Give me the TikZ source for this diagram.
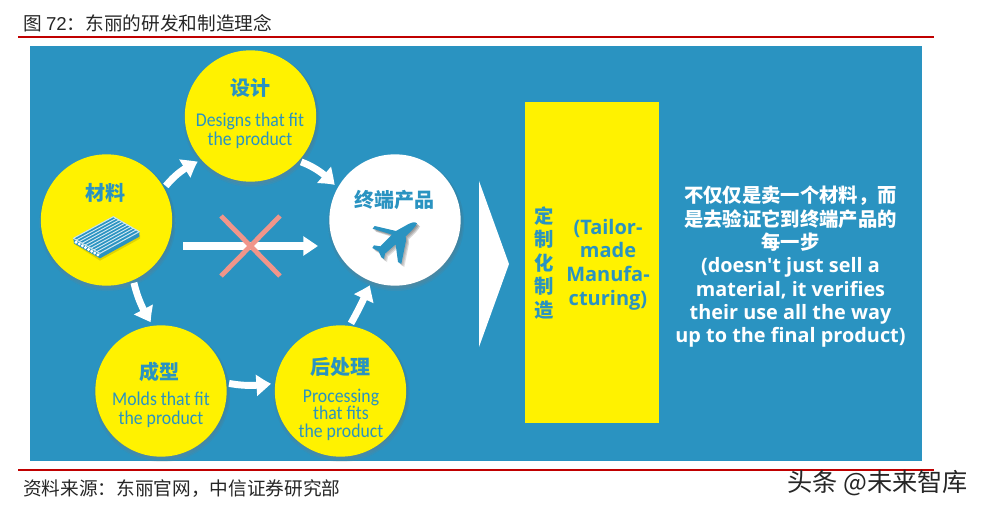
\documentclass[tikz,border=0pt]{standalone}
\usepackage{fontspec}
\usetikzlibrary{arrows.meta,bending}
\setmainfont{Liberation Sans}
\newfontfamily\cjk{Noto Sans CJK SC}
\newfontfamily\engcirc[FakeStretch=0.91]{Carlito}
\newfontfamily\engbold{Open Sans}
\definecolor{panel}{HTML}{2A93C1}
\definecolor{sun}{HTML}{FFF200}
\definecolor{redline}{HTML}{C00000}
\definecolor{cross}{HTML}{F0958A}
\definecolor{shade}{HTML}{0C3F5E}
\tikzset{
  ball/.style={circle,fill=sun,minimum size=98.5pt,inner sep=0pt},
  whiteball/.style={ball,fill=white},
  headcjk/.style={text=panel,inner sep=0pt,font=\cjk\bfseries\fontsize{15}{18}\selectfont},
  circen/.style={text=panel,inner sep=0pt,align=center,font=\engcirc\fontsize{14.6}{15}\selectfont},
  flow/.style={draw=white,line width=5.2pt,-{Triangle[width=15pt,length=11.5pt,bend]},shorten <=2pt,shorten >=3pt},
  rule/.style={draw=redline,line width=1.5pt},
  crossbar/.style={draw=cross,line width=3.6pt},
}
\newcommand\planepath{(741,220) .. controls (738,228) and (725,243) .. (707,259) -- (708,272) -- (694,342) -- (684,336) -- (677,283) -- (645,311) -- (642,327) -- (634,322) -- (626,304) -- (607,294) -- (612,286) -- (631,289) -- (666,254) -- (608,236) -- (614,228) -- (678,243) -- (712,224) .. controls (725,217) and (735,214) .. (741,220) -- cycle}
\begin{document}
\begin{tikzpicture}[x=.75pt,y=-.75pt]
\useasboundingbox (0,0) rectangle (983,510);
% panel and rules
\fill[panel] (30,46) rectangle (922,461);
\coordinate (ruleAl) at (18,37); \coordinate (ruleAr) at (934,37);
\coordinate (ruleBl) at (18,470); \coordinate (ruleBr) at (934,470);
\path[rule] (ruleAl) -- (ruleAr);
\path[rule] (ruleBl) -- (ruleBr);
\node[anchor=west,inner sep=0pt,text=black!85] (title) at (23,23) {\fontsize{14}{16}\selectfont\cjk 图 {\rmfamily 72}：东丽的研发和制造理念};
\node[anchor=west,inner sep=0pt,text=black!85] (source) at (23,489) {\cjk\fontsize{14}{16}\selectfont 资料来源：东丽官网，中信证券研究部};
\node[anchor=west,inner sep=0pt,text=black!85] (mark) at (787,483) {\cjk\fontsize{18.9}{20}\selectfont 头条 @未来智库};
% soft shadows
\foreach \X/\Y in {106.5/220,250.5/116,395/220,161/391,340.5/391}{
  \foreach \r in {62,63.5,65,66.5,68}{
    \fill[shade,opacity=.07] (\X+1,\Y+3) circle[radius=\r];
  }
}
% circles
\node[ball] (mat) at (106.5,220) {};
\node[ball] (des) at (250.5,116) {};
\node[whiteball] (fin) at (395,220) {};
\node[ball] (mold) at (161,391) {};
\node[ball] (post) at (340.5,391) {};
% circle texts
\node[headcjk] (matT) at (105,193) {材料};
\node[headcjk] (desT) at (250,88) {设计};
\node[circen] (desA) at (250,121) {Designs that fit};
\node[circen] (desB) at (250,140) {the product};
\node[headcjk] (finT) at (394,200) {终端产品};
\node[headcjk] (moldT) at (159,372) {成型};
\node[circen] (moldA) at (161,399) {Molds that fit};
\node[circen] (moldB) at (161,419) {the product};
\node[headcjk] (postT) at (340,367) {后处理};
\node[circen,font=\engcirc\fontsize{14.6}{13.2}\selectfont] (postA) at (341,414.5) {Processing\\that fits\\the product};
% connectors
\path[flow] (mat.29) to[bend left=14] (des.222);
\path[flow] (des.-43) to[bend left=14] (fin.151);
\path[flow] (mat.-66) to[bend right=10] (mold.97);
\path[flow] (mold.7) to[bend right=10] (post.173);
\path[flow] (post.82) to[bend right=3] (fin.249);
\coordinate (direct) at (183,246); \coordinate (directEnd) at (318,246);
\draw[white,line width=5.4pt,-{Triangle[width=14pt,length=11pt]}] (direct) -- (directEnd);
\coordinate (xa) at (221,216); \coordinate (xb) at (280,276);
\coordinate (xc) at (280,216); \coordinate (xd) at (221,276);
\path[crossbar] (xa) -- (xb);
\path[crossbar] (xc) -- (xd);
% plane
\begin{scope}[shift={(170,150)},x=.25pt,y=-.25pt]
  \foreach \d in {3,6,9}{\fill[shade,opacity=.13,xshift=\d*.25pt,yshift=-\d*.25pt] \planepath;}
  \fill[panel] \planepath;
\end{scope}
% plate icon
\begin{scope}[shift={(30,40)},x=.25pt,y=-.25pt]
  \fill[black,opacity=.12] (132,612) -- (210,662) -- (330,596) -- (330,585) -- cycle;
  \fill[panel] (130,595) -- (250,530) -- (328,575) -- (328,590) -- (210,655) -- (132,610) -- cycle;
  \draw[white!75!panel,line width=.8pt,line join=round] (130,595) -- (250,530) -- (328,575) -- (210,640) -- cycle;
  \foreach \t in {.11,.22,.33,.44,.55,.66,.77,.88}{
    \draw[white!80!panel,line width=.7pt] ({130+80*\t},{595+45*\t}) -- ({250+78*\t},{530+45*\t});
  }
  \foreach \t in {.08,.2,.32,.44,.56,.68,.8,.92}{
    \fill[white] ({132+78*\t},{603+45*\t}) circle[radius=5];
  }
\end{scope}
% big arrow and box
\fill[white] (479,181) -- (509,264) -- (479,347) -- cycle;
\node[draw=none,fill=sun,inner sep=0pt,minimum width=100.5pt,minimum height=240.75pt] (box) at (592,262.5) {};
\node[text=panel,inner sep=0pt,align=center,font=\cjk\bfseries\fontsize{14.5}{17.6}\selectfont] (boxA) at (544.5,263) {定\\制\\化\\制\\造};
\node[text=panel,inner sep=0pt,align=center,font=\engbold\bfseries\fontsize{15}{17.7}\selectfont] (boxB) at (608,264.5) {(Tailor-\\made\\Manufa-\\cturing)};
\node[text=white,inner sep=0pt,align=center,font=\bfseries\fontsize{14.5}{17.5}\selectfont] (claim) at (790.5,267) {{\cjk 不仅仅是卖一个材料，而}\\{\cjk 是去验证它到终端产品的}\\{\cjk 每一步}\\{\engbold\fontsize{14.9}{17.5}\selectfont (doesn't just sell a}\\{\engbold\fontsize{14.9}{17.5}\selectfont material, it verifies}\\{\engbold\fontsize{14.9}{17.5}\selectfont their use all the way}\\{\engbold\fontsize{14.9}{17.5}\selectfont up to the final product)}};
\end{tikzpicture}
\end{document}
